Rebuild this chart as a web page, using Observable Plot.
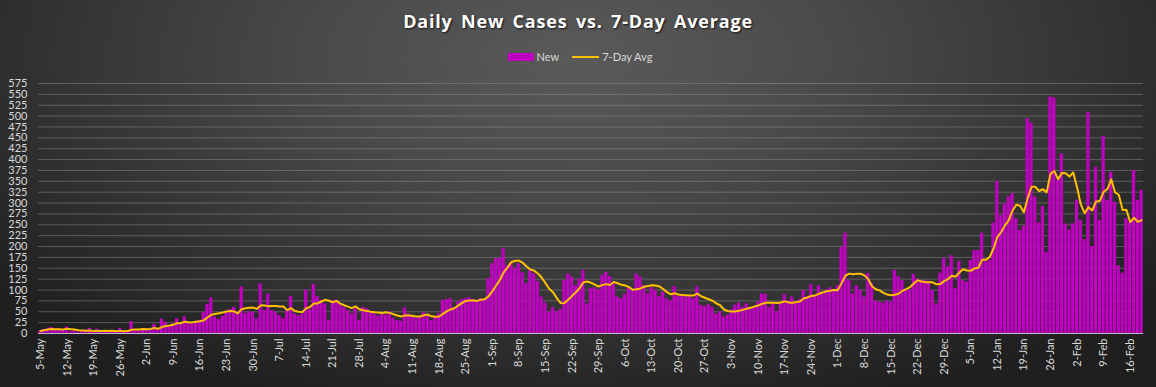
<!DOCTYPE html>
<html><head><meta charset="utf-8">
<script src="https://cdn.jsdelivr.net/npm/d3@7"></script>
<script src="https://cdn.jsdelivr.net/npm/@observablehq/plot@0.6"></script>
<style>
html,body{margin:0;padding:0;}
body{width:1156px;height:387px;overflow:hidden;position:relative;
  background: radial-gradient(ellipse 65% 95% at 50% 15%, #5a5a5a 0%, #4a4a4a 35%, #333 70%, #1f1f1f 100%);
  font-family: Lato, "Open Sans", sans-serif;}
#title{position:absolute;top:9px;left:0;width:1156px;text-align:center;color:#fff;
  font:bold 18px "Open Sans", sans-serif;letter-spacing:0.8px;word-spacing:3px;
  text-shadow:1px 1px 2px rgba(0,0,0,.75);}
#legend{position:absolute;top:50px;left:0;width:1160px;display:flex;justify-content:center;align-items:center;
  color:#d9d9d9;font:11px Lato, sans-serif;}
#legend .sw{display:inline-block;width:26px;height:8px;background:#C000C0;margin-right:3px;}
#legend .ln{display:inline-block;width:27px;height:2px;background:#FFC000;margin:0 3px 0 13px;}
#chart{position:absolute;top:70px;left:0;}
</style></head>
<body>
<div id="title">Daily New Cases vs. 7-Day Average</div>
<div id="legend"><span class="sw"></span><span>New</span><span class="ln"></span><span>7-Day Avg</span></div>
<div id="chart"></div>
<script>
// First day of the series
const startDate = "2020-05-05";
// Daily new cases, one row per week starting 5-May
const newCases = [
  6, 9, 12, 14, 8, 10, 7,
  15, 4, 6, 3, 5, 4, 12,
  4, 10, 3, 5, 4, 6, 3,
  12, 5, 4, 27, 6, 8, 10,
  10, 8, 21, 12, 33, 26, 18,
  22, 34, 20, 38, 25, 22, 28,
  30, 48, 67, 82, 38, 32, 40,
  48, 55, 60, 50, 107, 46, 50,
  49, 34, 114, 53, 91, 53, 49,
  41, 34, 55, 85, 45, 41, 45,
  100, 55, 113, 85, 76, 68, 30,
  76, 77, 68, 60, 53, 45, 57,
  30, 60, 57, 50, 45, 40, 48,
  42, 50, 35, 30, 28, 59, 45,
  40, 35, 38, 48, 40, 30, 38,
  45, 76, 78, 80, 60, 72, 78,
  80, 82, 78, 75, 80, 78, 126,
  160, 172, 173, 195, 157, 165, 150,
  160, 140, 115, 145, 137, 120, 84,
  70, 49, 60, 50, 55, 122, 137,
  130, 110, 125, 145, 68, 103, 105,
  100, 133, 141, 131, 115, 84, 80,
  90, 105, 100, 137, 130, 110, 91,
  105, 100, 85, 95, 80, 75, 108,
  85, 90, 84, 88, 80, 107, 65,
  62, 66, 60, 45, 50, 38, 42,
  55, 65, 70, 60, 68, 55, 60,
  72, 91, 90, 60, 68, 50, 68,
  90, 75, 84, 70, 78, 99, 85,
  112, 85, 110, 90, 100, 105, 98,
  110, 198, 231, 122, 91, 110, 100,
  84, 138, 115, 75, 72, 70, 75,
  72, 145, 131, 122, 100, 100, 136,
  125, 122, 122, 120, 99, 68, 139,
  173, 153, 179, 103, 166, 122, 118,
  168, 191, 191, 231, 165, 168, 254,
  350, 271, 298, 314, 322, 264, 237,
  247, 494, 484, 314, 254, 292, 187,
  544, 542, 352, 413, 252, 238, 252,
  307, 260, 216, 509, 200, 382, 260,
  453, 306, 371, 302, 156, 139, 264,
  256, 375, 306, 329
];
// y-axis tick values
const yTicks = d3.range(0, 576, 25);
// x-axis labels: every 7th day
const labelEvery = 7;

const t0 = new Date(startDate + "T00:00:00");
const dates = newCases.map((_, i) => d3.timeDay.offset(t0, i));
const fmt = d3.timeFormat("%-d-%b");
const data = newCases.map((v, i) => ({i, date: dates[i], v}));
const idx = data.map(d => d.i);
const xTicks = idx.filter(i => i % labelEvery === 0);

const chart = Plot.plot({
  width: 1156, height: 317,
  marginTop: 13, marginBottom: 54, marginLeft: 38, marginRight: 13,
  style: {background: "transparent", color: "#d9d9d9", fontFamily: "Lato, sans-serif", fontSize: "11px", overflow: "visible"},
  x: {type: "band", domain: idx, paddingInner: 0.15, paddingOuter: 0.075, label: null},
  y: {domain: [0, 575], label: null},
  marks: [
    Plot.ruleY(yTicks.filter(d => d > 0), {stroke: "#9a9a9a", strokeOpacity: 0.45}),
    Plot.barY(data, {x: "i", y: "v", fill: "#C000C0"}),
    Plot.ruleY([0], {stroke: "#bfbfbf"}),
    Plot.lineY(data, Plot.windowY({k: 7, anchor: "end"}, {x: "i", y: "v", stroke: "#FFC000", strokeWidth: 2})),
    Plot.axisY({ticks: yTicks, tickSize: 0, tickPadding: 11, label: null, fill: "#d9d9d9"}),
    Plot.axisX({ticks: xTicks, tickFormat: i => fmt(dates[i]), tickRotate: -90, tickSize: 0, tickPadding: 5, label: null, fill: "#d9d9d9"})
  ]
});
document.getElementById("chart").appendChild(chart);
</script>
</body></html>
